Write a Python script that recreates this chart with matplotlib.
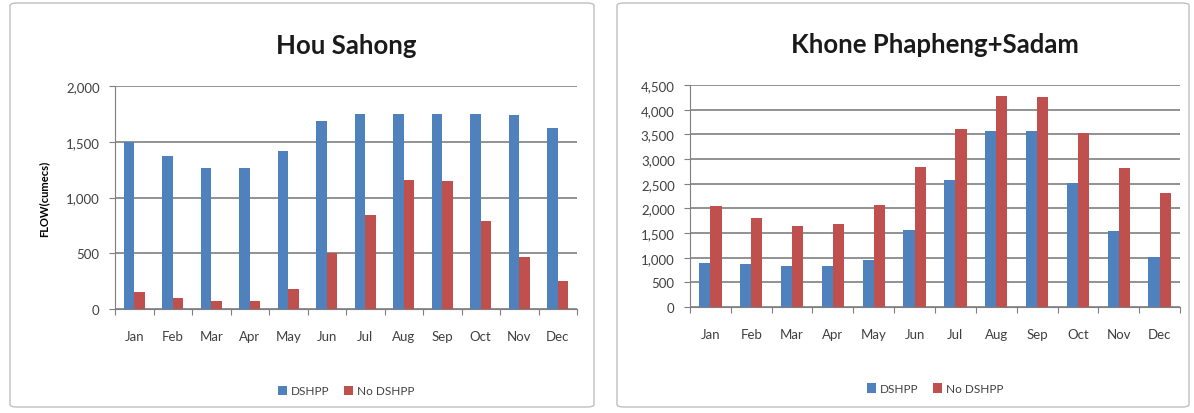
import matplotlib.pyplot as plt
import matplotlib.patches as mpatches
import numpy as np

plt.rcParams['font.family'] = ['Lato', 'DejaVu Sans']

# Datos
meses = ['Jan', 'Feb', 'Mar', 'Apr', 'May', 'Jun', 'Jul', 'Aug', 'Sep', 'Oct', 'Nov', 'Dec']
hou_dshpp = [1500, 1370, 1265, 1265, 1420, 1690, 1750, 1750, 1750, 1750, 1740, 1625]
hou_no_dshpp = [150, 100, 75, 75, 175, 500, 840, 1160, 1150, 790, 470, 250]
kp_dshpp = [900, 870, 830, 830, 950, 1570, 2580, 3560, 3560, 2520, 1540, 1020]
kp_no_dshpp = [2040, 1810, 1650, 1690, 2060, 2840, 3610, 4280, 4250, 3530, 2810, 2320]

AZUL = '#4F81BD'
ROJO = '#C0504D'
GRIS = '#7F7F7F'

fig = plt.figure(figsize=(11.94, 4.14), dpi=100)

# marcos de cada gráfico (detrás de los ejes)
for x0, w in [(10 / 1194, 584 / 1194), (617 / 1194, 572 / 1194)]:
    fig.patches.append(mpatches.FancyBboxPatch(
        (x0, 6 / 414), w, 404 / 414, boxstyle='round,pad=0,rounding_size=0.006',
        transform=fig.transFigure, facecolor='none', edgecolor='#BFBFBF',
        linewidth=1.0, zorder=-1))


def grafico(ax, titulo, serie1, serie2, ymax, paso, ylabel=None):
    x = np.arange(len(meses))
    ancho = 0.275
    ax.bar(x - ancho / 2, serie1, ancho, color=AZUL, label='DSHPP', zorder=3)
    ax.bar(x + ancho / 2, serie2, ancho, color=ROJO, label='No DSHPP', zorder=3)
    ax.set_xlim(-0.5, len(meses) - 0.5)
    ax.set_ylim(0, ymax)
    ax.set_yticks(np.arange(0, ymax + 1, paso))
    ax.set_yticklabels([f'{v:,}' for v in np.arange(0, ymax + 1, paso)], fontsize=9.5, color='#404040')
    ax.yaxis.grid(True, color=GRIS, linewidth=1.2, zorder=0)
    ax.set_xticks(np.arange(-0.5, len(meses), 1))
    ax.set_xticklabels([])
    ax.set_xticks(x, minor=True)
    ax.set_xticklabels(meses, minor=True, fontsize=9.5, color='#404040')
    ax.tick_params(axis='x', which='minor', length=0, pad=15)
    ax.tick_params(axis='x', which='major', length=4, color=GRIS, direction='out')
    ax.tick_params(axis='y', length=4, color=GRIS, pad=7)
    for lado in ['top', 'right']:
        ax.spines[lado].set_visible(False)
    for lado in ['left', 'bottom']:
        ax.spines[lado].set_color(GRIS)
    ax.set_axisbelow(True)
    ax.set_title(titulo, fontsize=18.5, fontweight='bold', pad=24, color='#1a1a1a')
    if ylabel:
        ax.set_ylabel(ylabel, fontsize=8, fontweight='bold', labelpad=12)
    ax.legend(loc='upper center', bbox_to_anchor=(0.5, -0.295), ncol=2, frameon=False,
              fontsize=8.5, handlelength=0.8, handleheight=0.8, handletextpad=0.3,
              columnspacing=1.2, labelcolor='#404040')


ax1 = fig.add_axes([115 / 1194, 1 - 310 / 414, 462 / 1194, 223 / 414])
grafico(ax1, 'Hou Sahong', hou_dshpp, hou_no_dshpp, 2000, 500, 'FLOW(cumecs)')

ax2 = fig.add_axes([690 / 1194, 1 - 308 / 414, 490 / 1194, 222 / 414])
grafico(ax2, 'Khone Phapheng+Sadam', kp_dshpp, kp_no_dshpp, 4500, 500)

fig.savefig('out.png', dpi=100)
